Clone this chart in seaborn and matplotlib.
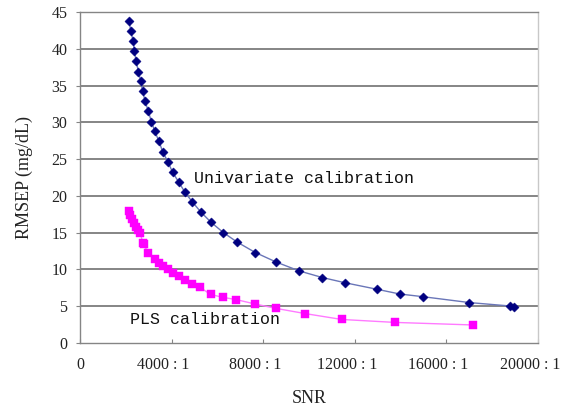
import matplotlib
matplotlib.use("Agg")
import matplotlib.pyplot as plt
import matplotlib.transforms as mtransforms
import seaborn as sns
import pandas as pd

# ---- data ----
uni_snr = [2145, 2218, 2320, 2378, 2450, 2552, 2653, 2740, 2842, 2972, 3118, 3262,
           3451, 3610, 3843, 4045, 4306, 4581, 4901, 5278, 5727, 6264, 6873, 7656,
           8570, 9570, 10584, 11558, 12976, 13964, 14964, 16995, 18779, 18966]
uni_rmsep = [43.8, 42.4, 41.1, 39.7, 38.3, 36.9, 35.6, 34.2, 32.9, 31.6, 30.1, 28.8,
             27.4, 26.0, 24.6, 23.2, 21.9, 20.5, 19.2, 17.8, 16.4, 15.0, 13.7, 12.3,
             11.0, 9.8, 8.9, 8.2, 7.3, 6.66, 6.3, 5.5, 5.03, 4.93]

pls_snr = [2120, 2180, 2260, 2370, 2440, 2550, 2640, 2730, 2790, 2980, 3260, 3450,
           3630, 3840, 4060, 4320, 4570, 4900, 5250, 5700, 6250, 6820, 7650, 8570,
           9830, 11430, 13750, 17170]
pls_rmsep = [18.0, 17.4, 16.9, 16.3, 15.8, 15.3, 15.0, 13.6, 13.4, 12.2, 11.4, 10.9,
             10.5, 10.0, 9.55, 9.1, 8.56, 8.0, 7.55, 6.6, 6.2, 5.9, 5.3, 4.7,
             4.0, 3.2, 2.8, 2.45]

x_ticks = [0, 4000, 8000, 12000, 16000, 20000]
x_tick_labels = ["0", "4000 : 1", "8000 : 1", "12000 : 1", "16000 : 1", "20000 : 1"]
y_ticks = [0, 5, 10, 15, 20, 25, 30, 35, 40, 45]

uni_label = "Univariate calibration"
pls_label = "PLS calibration"

# ---- styling ----
sns.set_theme(style="white")
plt.rcParams["font.family"] = ["Liberation Serif", "DejaVu Serif"]

uni_df = pd.DataFrame({"SNR": uni_snr, "RMSEP": uni_rmsep})
pls_df = pd.DataFrame({"SNR": pls_snr, "RMSEP": pls_rmsep})

fig = plt.figure(figsize=(5.65, 4.08), dpi=100)
ax = fig.add_axes([80 / 565, 1 - 343 / 408, (538 - 80) / 565, (343 - 12) / 408])

grid_col = "#858585"
for yv in y_ticks[1:]:
    ax.axhline(yv, color=grid_col, lw=1.4, zorder=0)

sns.lineplot(data=uni_df, x="SNR", y="RMSEP", sort=False, color="#6a76b8",
             lw=1.0, ax=ax, zorder=2)
sns.lineplot(data=pls_df, x="SNR", y="RMSEP", sort=False, color="#ff7aff",
             lw=1.0, ax=ax, zorder=2)
sns.scatterplot(data=uni_df, x="SNR", y="RMSEP", marker="D", s=22,
                color="#000080", edgecolor="#000080", linewidth=0.3, ax=ax, zorder=3)
sns.scatterplot(data=pls_df, x="SNR", y="RMSEP", marker="s", s=26,
                color="#ff00ff", edgecolor="#ff00ff", linewidth=0.3, ax=ax, zorder=3)

ax.set_xlim(0, 20000)
ax.set_ylim(0, 45)
ax.set_xticks(x_ticks)
ax.set_xticklabels(x_tick_labels)
ax.set_yticks(y_ticks)

ax.tick_params(axis="x", direction="in", length=3, width=0.8, color=grid_col,
               pad=10, labelsize=11.5, labelcolor="#222222")
ax.tick_params(axis="y", direction="out", length=3, width=0.8, color=grid_col,
               pad=6, labelsize=11.5, labelcolor="#222222")
ax.tick_params(left=True, bottom=True)

# shift the ratio labels slightly left, as in the reference
offset = mtransforms.ScaledTranslation(-8 / 100, 0, fig.dpi_scale_trans)
for lbl in ax.get_xticklabels()[1:]:
    lbl.set_transform(lbl.get_transform() + offset)

for side in ["left", "bottom", "right", "top"]:
    ax.spines[side].set_visible(True)
    ax.spines[side].set_color(grid_col)
    ax.spines[side].set_linewidth(1.0)
ax.spines["right"].set_color("#c8c8c8")

ax.set_xlabel("SNR", fontsize=13, color="#222222", labelpad=12)
ax.set_ylabel("RMSEP (mg/dL)", fontsize=13, color="#222222", labelpad=13)

ax.text(5000, 22.3, uni_label, family=["Liberation Mono", "DejaVu Sans Mono"],
        fontsize=12, ha="left", va="center", color="#111111")
ax.text(2175, 3.26, pls_label, family=["Liberation Mono", "DejaVu Sans Mono"],
        fontsize=12, ha="left", va="center", color="#111111")

fig.savefig("out.png", dpi=100, facecolor="white")
